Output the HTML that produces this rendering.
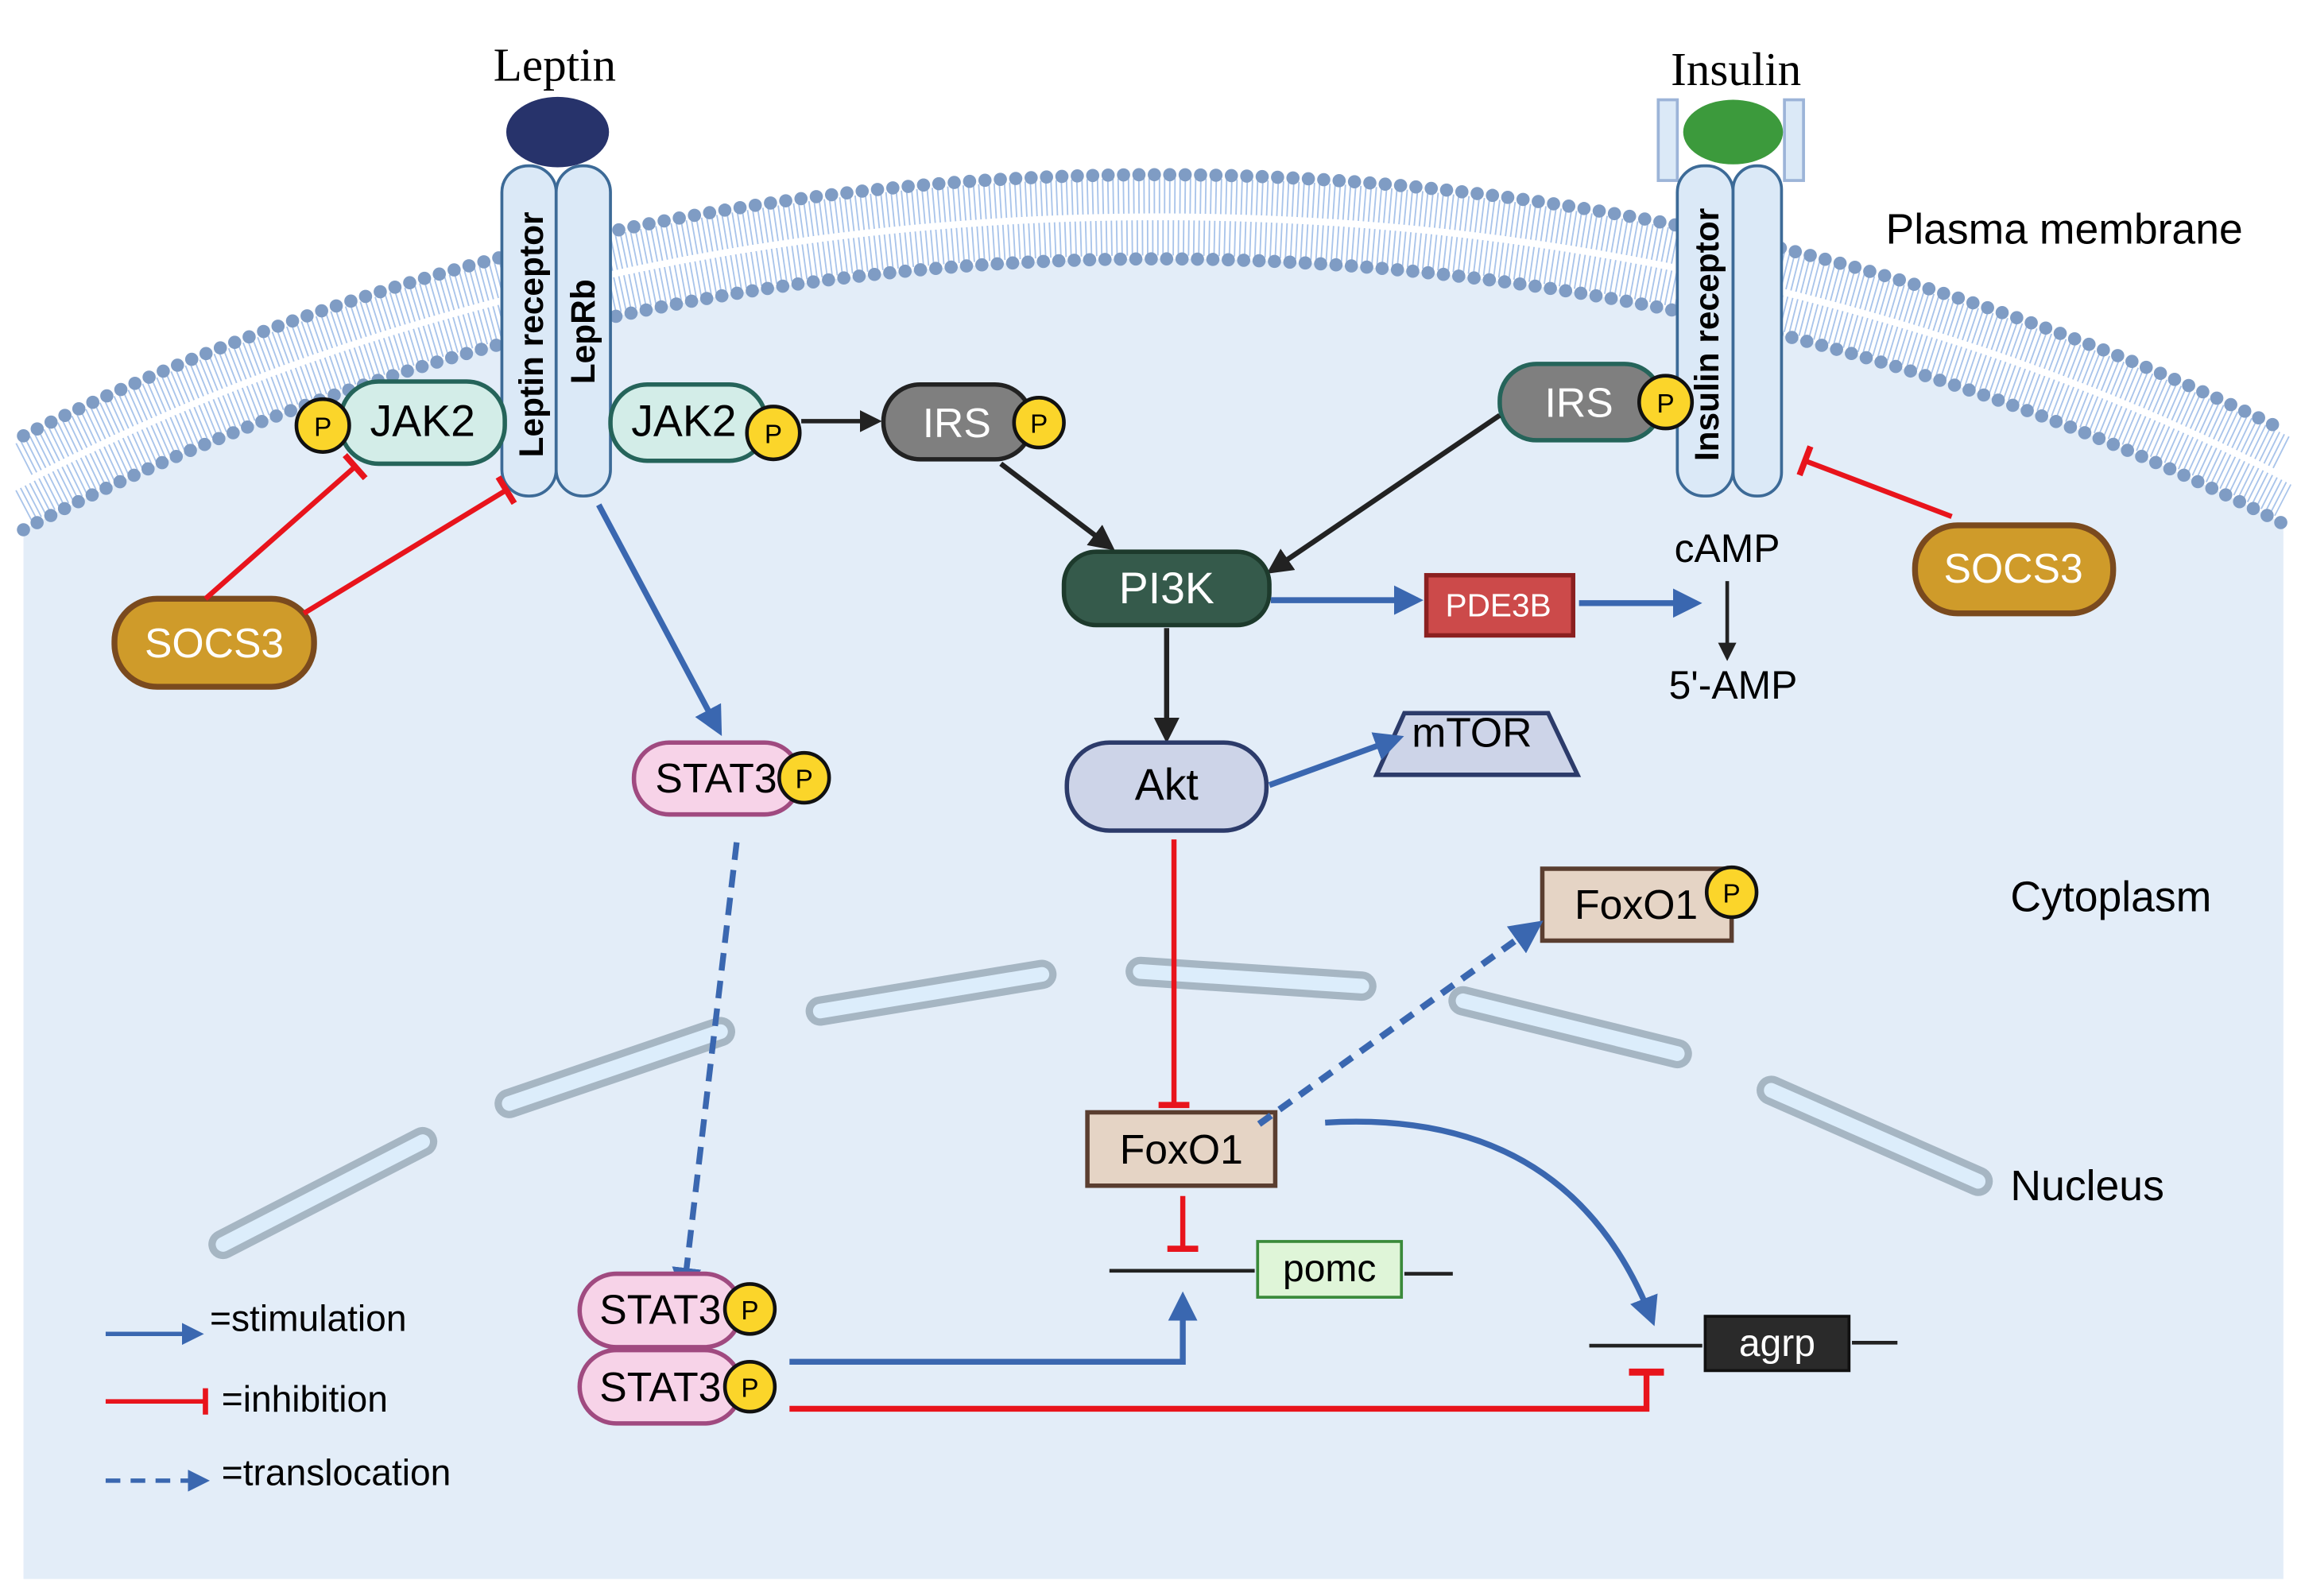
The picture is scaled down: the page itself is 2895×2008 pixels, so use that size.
<!DOCTYPE html>
<html><head><meta charset="utf-8"><style>
html,body{margin:0;padding:0;background:#fff}
svg{display:block}
text{font-family:"Liberation Sans",sans-serif}
</style></head><body>
<svg width="2895" height="2008" viewBox="0 0 1568 1087.6" preserveAspectRatio="none" xmlns="http://www.w3.org/2000/svg">
<defs>
<marker id="ab" viewBox="0 0 10 10" refX="8" refY="5" markerWidth="5" markerHeight="5" orient="auto"><path d="M0,0L10,5L0,10z" fill="#3a67b0"/></marker>
<marker id="ak" viewBox="0 0 10 10" refX="8" refY="5" markerWidth="5" markerHeight="5" orient="auto"><path d="M0,0L10,5L0,10z" fill="#222"/></marker>
<marker id="ir" viewBox="0 0 10 10" refX="5" refY="5" markerWidth="6" markerHeight="6" orient="auto"><path d="M5,0V10" stroke="#e8141c" stroke-width="2"/></marker>
</defs>
<rect width="1568" height="1088" fill="#fff"/>
<path d="M16,361 A1351,1024 0 0 1 1556,357 L1556,1076 L16,1076 Z" fill="#e3edf8"/>
<path d="M16,313 A1394,1067 0 0 1 1556,309" fill="none" stroke="#a9c4ea" stroke-width="24" stroke-dasharray="1 2.5"/>
<path d="M16,345 A1365,1038 0 0 1 1556,341" fill="none" stroke="#a9c4ea" stroke-width="24" stroke-dasharray="1 2.5"/>
<path d="M16,329 A1380,1052 0 0 1 1556,325" fill="none" stroke="#fff" stroke-width="3"/>
<path d="M16,297 A1408,1081 0 0 1 1556,293" fill="none" stroke="#7f9cc4" stroke-width="9" stroke-linecap="round" stroke-dasharray="0 10.5"/>
<path d="M16,361 A1351,1024 0 0 1 1556,357" fill="none" stroke="#7f9cc4" stroke-width="9" stroke-linecap="round" stroke-dasharray="0 10.5"/>

<g stroke-linecap="round" fill="none">
<g stroke="#a6b6c3" stroke-width="20">
<line x1="152" y1="848" x2="288" y2="778"/><line x1="347" y1="752" x2="491" y2="703"/><line x1="559" y1="689" x2="710" y2="664"/><line x1="777" y1="662" x2="928" y2="672"/><line x1="997" y1="682" x2="1143" y2="718"/><line x1="1207" y1="743" x2="1348" y2="805"/>
</g>
<g stroke="#dcedfb" stroke-width="10">
<line x1="152" y1="848" x2="288" y2="778"/><line x1="347" y1="752" x2="491" y2="703"/><line x1="559" y1="689" x2="710" y2="664"/><line x1="777" y1="662" x2="928" y2="672"/><line x1="997" y1="682" x2="1143" y2="718"/><line x1="1207" y1="743" x2="1348" y2="805"/>
</g></g>

<text x="378" y="55" font-size="32" text-anchor="middle" style="font-family:'Liberation Serif',serif">Leptin</text>
<ellipse cx="380" cy="90" rx="35" ry="24" fill="#27336b"/>
<rect x="342" y="113" width="37" height="225" rx="18" fill="#dbe9f7" stroke="#3c6a97" stroke-width="2"/>
<rect x="379" y="113" width="37" height="225" rx="18" fill="#dbe9f7" stroke="#3c6a97" stroke-width="2"/>
<text transform="translate(370,228) rotate(-90)" font-size="23" font-weight="bold" text-anchor="middle">Leptin receptor</text>
<text transform="translate(405,226) rotate(-90)" font-size="23" font-weight="bold" text-anchor="middle">LepRb</text>

<text x="1183" y="58" font-size="32" text-anchor="middle" style="font-family:'Liberation Serif',serif">Insulin</text>
<rect x="1130" y="68" width="13" height="55" fill="#dbe9f7" stroke="#9cb4d8" stroke-width="2"/>
<rect x="1216" y="68" width="13" height="55" fill="#dbe9f7" stroke="#9cb4d8" stroke-width="2"/>
<ellipse cx="1181" cy="90" rx="34" ry="22" fill="#3c9a3c"/>
<rect x="1143" y="113" width="38" height="225" rx="18" fill="#dbe9f7" stroke="#3c6a97" stroke-width="2"/>
<rect x="1181" y="113" width="33" height="225" rx="16" fill="#dbe9f7" stroke="#3c6a97" stroke-width="2"/>
<text transform="translate(1171,228) rotate(-90)" font-size="23" font-weight="bold" text-anchor="middle">Insulin receptor</text>
<text x="1285" y="166" font-size="29">Plasma membrane</text>

<rect x="232" y="260" width="112" height="56" rx="26" fill="#d3ede8" stroke="#25645a" stroke-width="3"/>
<text x="288" y="297" font-size="30" text-anchor="middle">JAK2</text>
<circle cx="220" cy="290" r="18" fill="#fbd52a" stroke="#111" stroke-width="2.5"/><text x="220" y="297" font-size="18" text-anchor="middle">P</text>
<rect x="416" y="262" width="106" height="52" rx="25" fill="#d3ede8" stroke="#25645a" stroke-width="3"/>
<text x="466" y="297" font-size="30" text-anchor="middle">JAK2</text>
<circle cx="527" cy="295" r="18" fill="#fbd52a" stroke="#111" stroke-width="2.5"/><text x="527" y="302" font-size="18" text-anchor="middle">P</text>
<line x1="546" y1="287" x2="598" y2="287" stroke="#222" stroke-width="3" marker-end="url(#ak)"/>
<rect x="602" y="262" width="101" height="51" rx="25" fill="#7f7f7f" stroke="#222" stroke-width="3"/>
<text x="652" y="298" font-size="28" fill="#fff" text-anchor="middle">IRS</text>
<circle cx="708" cy="288" r="17" fill="#fbd52a" stroke="#111" stroke-width="2.5"/><text x="708" y="295" font-size="18" text-anchor="middle">P</text>
<line x1="682" y1="316" x2="757" y2="373" stroke="#222" stroke-width="3.5" marker-end="url(#ak)"/>
<rect x="1022" y="248" width="110" height="52" rx="25" fill="#7f7f7f" stroke="#25645a" stroke-width="3"/>
<text x="1076" y="284" font-size="28" fill="#fff" text-anchor="middle">IRS</text>
<circle cx="1135" cy="274" r="18" fill="#fbd52a" stroke="#111" stroke-width="2.5"/><text x="1135" y="281" font-size="18" text-anchor="middle">P</text>
<line x1="1022" y1="283" x2="866" y2="389" stroke="#222" stroke-width="3.5" marker-end="url(#ak)"/>

<rect x="78" y="408" width="136" height="60" rx="29" fill="#cf9b2a" stroke="#7a4a1e" stroke-width="4"/>
<text x="146" y="448" font-size="28" fill="#fff" text-anchor="middle">SOCS3</text>
<line x1="140" y1="408" x2="242" y2="318" stroke="#e8141c" stroke-width="3.5" marker-end="url(#ir)"/>
<line x1="207" y1="418" x2="345" y2="334" stroke="#e8141c" stroke-width="3.5" marker-end="url(#ir)"/>
<rect x="1305" y="358" width="135" height="60" rx="29" fill="#cf9b2a" stroke="#7a4a1e" stroke-width="4"/>
<text x="1372" y="397" font-size="28" fill="#fff" text-anchor="middle">SOCS3</text>
<line x1="1330" y1="352" x2="1230" y2="314" stroke="#e8141c" stroke-width="3.5" marker-end="url(#ir)"/>

<line x1="408" y1="344" x2="490" y2="498" stroke="#3a67b0" stroke-width="4" marker-end="url(#ab)"/>
<rect x="432" y="506" width="113" height="49" rx="24" fill="#f7d3e8" stroke="#a04a80" stroke-width="3"/>
<text x="488" y="540" font-size="28" text-anchor="middle">STAT3</text>
<circle cx="548" cy="530" r="17" fill="#fbd52a" stroke="#111" stroke-width="2.5"/><text x="548" y="537" font-size="18" text-anchor="middle">P</text>
<line x1="502" y1="574" x2="466" y2="880" stroke="#3a67b0" stroke-width="4" stroke-dasharray="12 7" marker-end="url(#ab)"/>

<rect x="725" y="376" width="140" height="50" rx="22" fill="#355a4b" stroke="#1d3a2c" stroke-width="3"/>
<text x="795" y="411" font-size="30" fill="#fff" text-anchor="middle">PI3K</text>
<line x1="866" y1="409" x2="966" y2="409" stroke="#3a67b0" stroke-width="4" marker-end="url(#ab)"/>
<rect x="972" y="392" width="100" height="41" fill="#cc4a4a" stroke="#8b2020" stroke-width="3"/>
<text x="1021" y="420" font-size="22" fill="#fff" text-anchor="middle">PDE3B</text>
<line x1="1076" y1="411" x2="1156" y2="411" stroke="#3a67b0" stroke-width="4" marker-end="url(#ab)"/>
<text x="1177" y="383" font-size="27" text-anchor="middle">cAMP</text>
<line x1="1177" y1="396" x2="1177" y2="448" stroke="#222" stroke-width="2.5" marker-end="url(#ak)"/>
<text x="1181" y="476" font-size="27" text-anchor="middle">5'-AMP</text>
<line x1="795" y1="428" x2="795" y2="503" stroke="#222" stroke-width="3.5" marker-end="url(#ak)"/>

<rect x="727" y="506" width="136" height="60" rx="29" fill="#cdd4e8" stroke="#2c3b6a" stroke-width="3"/>
<text x="795" y="545" font-size="30" text-anchor="middle">Akt</text>
<polygon points="938,528 957,486 1055,486 1075,528" fill="#cdd4e8" stroke="#2c3b6a" stroke-width="3"/>
<text x="1003" y="509" font-size="28" text-anchor="middle">mTOR</text>
<line x1="865" y1="535" x2="953" y2="503" stroke="#3a67b0" stroke-width="4" marker-end="url(#ab)"/>
<line x1="800" y1="572" x2="800" y2="753" stroke="#e8141c" stroke-width="3.5" marker-end="url(#ir)"/>

<rect x="741" y="758" width="128" height="50" fill="#e5d4c5" stroke="#5a3e30" stroke-width="3"/>
<text x="805" y="793" font-size="28" text-anchor="middle">FoxO1</text>
<rect x="1051" y="592" width="129" height="49" fill="#e5d4c5" stroke="#5a3e30" stroke-width="3"/>
<text x="1115" y="626" font-size="28" text-anchor="middle">FoxO1</text>
<circle cx="1180" cy="608" r="17" fill="#fbd52a" stroke="#111" stroke-width="2.5"/><text x="1180" y="615" font-size="18" text-anchor="middle">P</text>
<line x1="858" y1="766" x2="1048" y2="630" stroke="#3a67b0" stroke-width="4.5" stroke-dasharray="10 7" marker-end="url(#ab)"/>
<line x1="806" y1="815" x2="806" y2="851" stroke="#e8141c" stroke-width="3.5" marker-end="url(#ir)"/>
<path d="M903,765 Q1070,755 1126,900" fill="none" stroke="#3a67b0" stroke-width="4" marker-end="url(#ab)"/>

<line x1="756" y1="866" x2="855" y2="866" stroke="#222" stroke-width="2.5"/>
<rect x="857" y="846" width="98" height="38" fill="#dff5d8" stroke="#3a8a3a" stroke-width="2"/>
<text x="906" y="873" font-size="26" text-anchor="middle">pomc</text>
<line x1="957" y1="868" x2="990" y2="868" stroke="#222" stroke-width="2.5"/>
<line x1="1083" y1="917" x2="1160" y2="917" stroke="#222" stroke-width="2.5"/>
<rect x="1162" y="897" width="98" height="37" fill="#2a2a2a" stroke="#111" stroke-width="2"/>
<text x="1211" y="924" font-size="26" fill="#fff" text-anchor="middle">agrp</text>
<line x1="1262" y1="915" x2="1293" y2="915" stroke="#222" stroke-width="2.5"/>

<rect x="395" y="868" width="110" height="50" rx="25" fill="#f7d3e8" stroke="#a04a80" stroke-width="3"/>
<text x="450" y="902" font-size="28" text-anchor="middle">STAT3</text>
<circle cx="511" cy="892" r="17" fill="#fbd52a" stroke="#111" stroke-width="2.5"/><text x="511" y="899" font-size="18" text-anchor="middle">P</text>
<rect x="395" y="920" width="110" height="50" rx="25" fill="#f7d3e8" stroke="#a04a80" stroke-width="3"/>
<text x="450" y="955" font-size="28" text-anchor="middle">STAT3</text>
<circle cx="511" cy="945" r="17" fill="#fbd52a" stroke="#111" stroke-width="2.5"/><text x="511" y="952" font-size="18" text-anchor="middle">P</text>
<polyline points="538,928 806,928 806,884" fill="none" stroke="#3a67b0" stroke-width="4" marker-end="url(#ab)"/>
<polyline points="538,960 1122,960 1122,935" fill="none" stroke="#e8141c" stroke-width="4" marker-end="url(#ir)"/>

<text x="1370" y="621" font-size="29">Cytoplasm</text>
<text x="1370" y="818" font-size="29">Nucleus</text>

<line x1="72" y1="909" x2="136" y2="909" stroke="#3a67b0" stroke-width="3" marker-end="url(#ab)"/>
<text x="143" y="907" font-size="25">=stimulation</text>
<line x1="72" y1="955" x2="140" y2="955" stroke="#e8141c" stroke-width="3" marker-end="url(#ir)"/>
<text x="151" y="962" font-size="25">=inhibition</text>
<line x1="72" y1="1009" x2="140" y2="1009" stroke="#3a67b0" stroke-width="3" stroke-dasharray="10 7" marker-end="url(#ab)"/>
<text x="151" y="1012" font-size="25">=translocation</text>
</svg>
</body></html>
